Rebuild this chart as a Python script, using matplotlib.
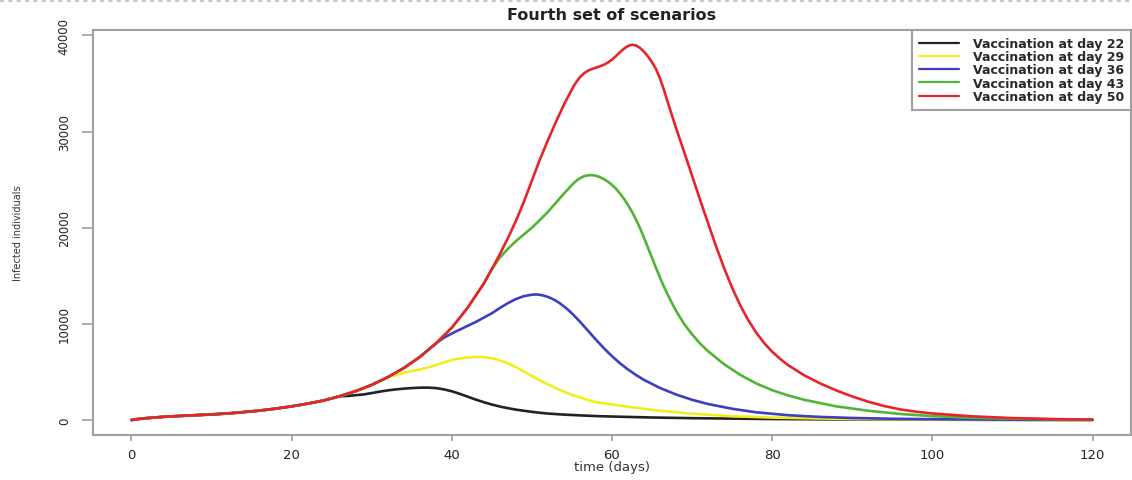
import matplotlib
matplotlib.use("Agg")
import matplotlib.pyplot as plt
from matplotlib.lines import Line2D

# epidemic curve when vaccination starts at day 50 (also the shared early path)
red_days = [0, 1, 2, 4, 6, 8, 10, 12, 14, 16, 18, 20, 22, 24, 26, 28, 30, 32, 34, 36, 38,
            40, 42, 44, 45, 46, 47, 48, 49, 50, 51, 52, 53, 54, 55, 55.5, 56, 56.5, 57, 57.5,
            58, 58.5, 59, 59.5, 60, 60.5, 61, 61.5, 62, 62.5, 63, 63.5, 64, 64.5, 65, 65.5,
            66, 66.5, 67, 67.5, 68, 69, 70, 71, 72, 73, 74, 75, 76, 77, 78, 79, 80, 81, 82,
            84, 86, 88, 90, 92, 94, 96, 98, 100, 105, 110, 115, 120]
red_inf = [0, 120, 200, 330, 420, 500, 580, 680, 820, 980, 1180, 1420, 1700, 2030, 2470,
           3000, 3650, 4450, 5400, 6550, 7950, 9600, 11700, 14200, 15700, 17250, 18900,
           20700, 22700, 24900, 27100, 29100, 31000, 32800, 34400, 35100, 35650, 36050,
           36330, 36500, 36650, 36780, 36950, 37180, 37480, 37850, 38250, 38620, 38900,
           39030, 38950, 38700, 38300, 37800, 37200, 36500, 35500, 34300, 32950, 31650,
           30350, 27900, 25400, 22900, 20450, 18050, 15800, 13750, 11950, 10400, 9100, 8000,
           7100, 6350, 5700, 4650, 3800, 3080, 2450, 1900, 1450, 1100, 860, 680, 380, 200,
           100, 40]

# the other scenarios leave the day-50 path after their own vaccination start
black_days = [27, 28, 29, 30, 31, 32, 33, 34, 35, 36, 37, 38, 39, 40, 41, 42, 43, 44, 45,
              46, 47, 48, 49, 50, 51, 52, 54, 56, 58, 60, 65, 70, 80, 90, 100, 110, 120]
black_inf = [2500, 2580, 2660, 2800, 2950, 3080, 3180, 3260, 3320, 3360, 3370, 3320, 3190,
             2990, 2720, 2420, 2120, 1850, 1610, 1400, 1230, 1080, 960, 850, 750, 670, 560,
             480, 410, 360, 260, 190, 100, 55, 30, 15, 5]

yellow_days = [33, 34, 35, 36, 37, 38, 39, 40, 41, 42, 43, 43.5, 44, 45, 46, 47, 48, 49,
               50, 51, 52, 53, 54, 55, 56, 57, 58, 60, 62, 65, 70, 75, 80, 90, 100, 110, 120]
yellow_inf = [4650, 4900, 5100, 5250, 5450, 5700, 5980, 6250, 6400, 6500, 6550, 6560, 6540,
              6420, 6200, 5880, 5500, 5050, 4580, 4100, 3700, 3300, 2950, 2620, 2350, 2080,
              1850, 1620, 1380, 1050, 650, 400, 250, 100, 45, 20, 8]

blue_days = [39, 40, 41, 42, 43, 44, 45, 46, 47, 48, 49, 50, 50.5, 51, 51.5, 52, 52.5, 53,
             53.5, 54, 54.5, 55, 55.5, 56, 56.5, 57, 57.5, 58, 58.5, 59, 59.5, 60, 61, 62,
             63, 64, 66, 68, 70, 72, 75, 78, 82, 86, 90, 95, 100, 110, 120]
blue_inf = [8550, 9000, 9400, 9800, 10200, 10650, 11100, 11650, 12150, 12580, 12880, 13030,
            13060, 13020, 12930, 12800, 12620, 12400, 12130, 11820, 11470, 11080, 10660,
            10220, 9760, 9290, 8820, 8350, 7900, 7460, 7040, 6640, 5900, 5250, 4680, 4170,
            3330, 2650, 2100, 1660, 1170, 800, 500, 320, 210, 130, 80, 30, 10]

green_days = [45, 46, 47, 48, 49, 50, 51, 52, 53, 54, 55, 55.5, 56, 56.5, 57, 57.5, 58, 58.5,
              59, 59.5, 60, 60.5, 61, 61.5, 62, 62.5, 63, 63.5, 64, 64.5, 65, 65.5, 66, 66.5,
              67, 68, 69, 70, 71, 72, 74, 76, 78, 80, 82, 84, 88, 92, 96, 100, 105, 110, 115,
              120]
green_inf = [15700, 16900, 17800, 18600, 19300, 20000, 20800, 21650, 22600, 23550, 24450,
             24850, 25150, 25350, 25450, 25470, 25400, 25250, 25050, 24780, 24450, 24050,
             23550, 23000, 22350, 21650, 20850, 19950, 18950, 17900, 16850, 15800, 14800,
             13850, 12950, 11350, 10000, 8900, 7950, 7150, 5800, 4700, 3800, 3100, 2550, 2100,
             1420, 960, 630, 400, 230, 130, 70, 30]

labels = ["Vaccination at day 22", "Vaccination at day 29", "Vaccination at day 36",
          "Vaccination at day 43", "Vaccination at day 50"]
colors = ["#222222", "#f2ee1e", "#3d3fbf", "#4fb534", "#e8242b"]
x_ticks = [0, 20, 40, 60, 80, 100, 120]
y_ticks = [0, 10000, 20000, 30000, 40000]


def branch(days, inf):
    # shared early path up to the branch day, then the scenario's own values
    head = [(d, v) for d, v in zip(red_days, red_inf) if d < days[0]]
    return [d for d, _ in head] + days, [v for _, v in head] + inf


series = [branch(black_days, black_inf),
          branch(yellow_days, yellow_inf),
          branch(blue_days, blue_inf),
          branch(green_days, green_inf),
          (red_days, red_inf)]

W, H = 1132, 481
fig = plt.figure(figsize=(W / 100, H / 100), dpi=100)
ax = fig.add_axes([93 / W, 1 - 436 / H, (1131 - 93) / W, (436 - 31) / H])

for (d, v), c, lab in zip(series, colors, labels):
    ax.plot(d, v, color=c, lw=1.9, label=lab, solid_capstyle="round",
            solid_joinstyle="round")

ax.set_xlim(-4.8, 124.8)
ax.set_ylim(-1560, 40560)
ax.set_xticks(x_ticks)
ax.set_yticks(y_ticks)
ax.set_xticklabels([str(t) for t in x_ticks], fontsize=9.5, color="#222222")
ax.set_yticklabels([str(t) for t in y_ticks], fontsize=8.5, color="#222222",
                   rotation=90, va="center")

frame_c = "#a0a0a0"
for s in ax.spines.values():
    s.set_color(frame_c)
    s.set_linewidth(1.5)
ax.tick_params(axis="x", length=4.5, width=1.2, color=frame_c, pad=5)
ax.tick_params(axis="y", length=8, width=1.2, color=frame_c, pad=8)

ax.set_xlabel("time (days)", fontsize=9.5, color="#333333")
ax.xaxis.set_label_coords(0.5, -0.062)
ax.set_ylabel("Infected individuals", fontsize=7, color="#333333")
ax.yaxis.set_label_coords(-0.067, 0.5)

fig.text(612 / W, 1 - 15 / H, "Fourth set of scenarios", ha="center", va="center",
         fontsize=11.5, fontweight="bold", color="#222222")

leg = ax.legend(loc="upper right", bbox_to_anchor=(1.0, 1.0), borderaxespad=0,
                prop={"size": 9, "weight": "bold"}, labelspacing=0.02,
                handlelength=3.2, handletextpad=1.1, borderpad=0.55,
                fancybox=False, framealpha=1)
leg.get_frame().set_edgecolor(frame_c)
leg.get_frame().set_linewidth(1.5)
for t in leg.get_texts():
    t.set_color("#2a2a2a")
for h in leg.get_lines():
    h.set_linewidth(1.6)

# dashed border along the top edge
fig.add_artist(Line2D([0, 1], [1 - 1.5 / H, 1 - 1.5 / H], transform=fig.transFigure,
                      color="#c8c8c8", lw=1.5, ls=(0, (2, 2))))

fig.savefig("out.png", dpi=100)
